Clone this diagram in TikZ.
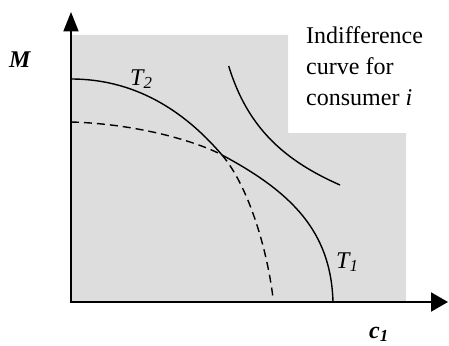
\documentclass[tikz,border=0pt]{standalone}
\usepackage{fontspec}
\setmainfont{Liberation Serif}
\usetikzlibrary{arrows.meta}
\definecolor{shadegray}{RGB}{221,221,221}
\begin{document}
\begin{tikzpicture}[x=1pt,y=-1pt,
  curve/.style={line width=1.4pt},
  dashcurve/.style={line width=1.4pt, dash pattern=on 8pt off 5pt},
  axis/.style={line width=2pt},
  lbl/.style={inner sep=0pt, anchor=base west}]
\useasboundingbox (0,0) rectangle (449,345);
% shaded region
\fill[shadegray] (71,35) -- (288,35) -- (288,133) -- (406,133) -- (406,302) -- (71,302) -- cycle;
% axes
\coordinate (O) at (71,302);
\coordinate (ytip) at (71,12);
\coordinate (xtip) at (448,302);
\draw[axis, -{Triangle[length=19.5pt,width=15pt]}] (O) -- (ytip);
\draw[axis, -{Triangle[length=17pt,width=19pt]}] (O) -- (xtip);
\fill (70,301) rectangle (72,303);
% curves
\coordinate (I) at (222,155);
\coordinate (T2a) at (71,79);
\coordinate (T2b) at (273,298);
\coordinate (T1a) at (71,122);
\coordinate (T1b) at (333,302);
\coordinate (Ua) at (228.7,66);
\coordinate (Ub) at (340,185);
\draw[curve] (T2a) .. controls (141,79) and (189.5,117) .. (I);
\draw[dashcurve] (I) .. controls (248,185.4) and (267,248) .. (T2b);
\draw[dashcurve] (T1a) .. controls (141,124) and (200,143) .. (I);
\draw[curve] (I) .. controls (292.4,192.6) and (331,232) .. (T1b);
\draw[curve] (Ua) .. controls (247.6,128.4) and (285.4,161) .. (Ub);
% labels
\node[lbl, font=\fontsize{24}{28}\selectfont\bfseries\itshape] (M) at (9,67) {M};
\node[lbl, font=\fontsize{24}{28}\selectfont\itshape] (t2) at (130,85) {T\textsubscript{2}};
\node[lbl, font=\fontsize{24}{28}\selectfont\itshape] (t1) at (336,268) {T\textsubscript{1}};
\node[lbl, font=\fontsize{24}{28}\selectfont\bfseries\itshape] (c1) at (369,338) {c\textsubscript{1}};
\node[lbl, font=\fontsize{24}{31}\selectfont, align=left] (txt) at (306,105) {Indifference\\curve for\\consumer \textit{i}};
\end{tikzpicture}
\end{document}
